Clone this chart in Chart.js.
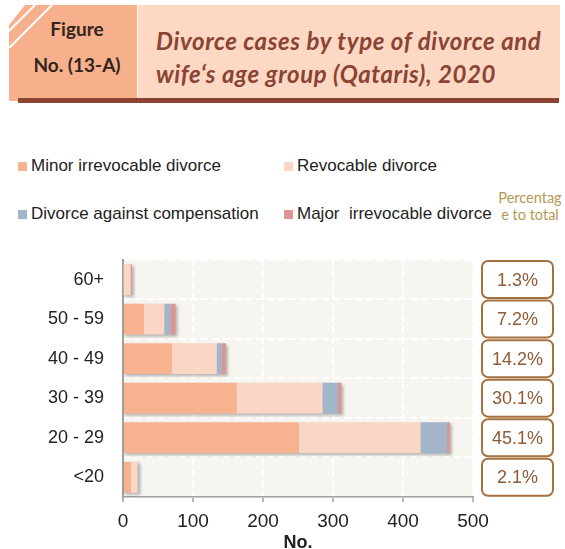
<!DOCTYPE html>
<html>
<head>
<meta charset="utf-8">
<script src="https://cdn.jsdelivr.net/npm/chart.js@4/dist/chart.umd.min.js"></script>
<style>
  html, body { margin: 0; padding: 0; background: #ffffff; }
  body { width: 565px; height: 549px; position: relative; overflow: hidden; }
  .abs { position: absolute; white-space: pre; }
  .fig { font-family: Lato, "Open Sans", sans-serif; font-weight: 700; color: #33241c; font-size: 19px; width: 128px; text-align: center; left: 13px; }
  .title { font-family: Lato, "Open Sans", sans-serif; font-weight: 700; font-style: italic; color: #8b4332; font-size: 24px; letter-spacing: 0.6px; left: 156px; }
  .leg { font-family: "Liberation Sans", Arial, sans-serif; font-size: 17px; color: #222; display: flex; align-items: center; }
  .leg i { display: inline-block; width: 9px; height: 9px; margin-right: 4px; }
  .pct { font-family: Lato, "Open Sans", sans-serif; font-size: 14.5px; color: #b39a52; left: 496px; width: 68px; text-align: center; line-height: 17px; }
  #c { position: absolute; left: 0; top: 230px; }
</style>
</head>
<body>
<svg class="abs" style="left:0;top:0" width="565" height="110">
  <polygon points="25,5 137,5 137,101 9,101 9,25" fill="#f7b08c"/>
  <line x1="35" y1="5" x2="9" y2="31" stroke="#fff" stroke-width="2"/>
  <line x1="52" y1="5" x2="9" y2="48" stroke="#fff" stroke-width="2"/>
  <rect x="138" y="5" width="422" height="93" fill="#fcd8c5"/>
  <rect x="18" y="98" width="541" height="5" fill="#8b4332"/>
</svg>
<div class="abs fig" style="top:17px;">Figure</div>
<div class="abs fig" style="top:53px;">No. (13-A)</div>
<div class="abs title" style="top:26px;">Divorce cases by type of divorce and</div>
<div class="abs title" style="top:59px;">wife‘s age group (Qataris), 2020</div>
<div id="legend"></div>
<div class="abs pct" style="top:189px;">Percentag
e to total</div>
<canvas id="c" width="565" height="319"></canvas>
<script>
const categories = ['60+', '50 - 59', '40 - 49', '30 - 39', '20 - 29', '<20'];
const minorIrrevocable = [1, 30, 70, 162, 251, 11];
const revocable = [10, 29, 64, 123, 174, 10];
const againstCompensation = [0, 9, 7, 22, 38, 1];
const majorIrrevocable = [2, 7, 6, 5, 4, 0];
const percentToTotal = ['1.3%', '7.2%', '14.2%', '30.1%', '45.1%', '2.1%'];
const seriesNames = ['Minor irrevocable divorce', 'Revocable divorce', 'Divorce against compensation', 'Major  irrevocable divorce'];
const seriesColors = ['#f7b38f', '#fbd6c4', '#a2b5ca', '#da9594'];
const xTickValues = [0, 100, 200, 300, 400, 500];

const seriesData = [minorIrrevocable, revocable, againstCompensation, majorIrrevocable];

// HTML legend (2 x 2 grid)
const legendPos = [[18, 156], [284, 156], [18, 204], [284, 204]];
const legendEl = document.getElementById('legend');
seriesNames.forEach((name, k) => {
  const d = document.createElement('div');
  d.className = 'abs leg';
  d.style.left = legendPos[k][0] + 'px';
  d.style.top = legendPos[k][1] + 'px';
  d.style.height = '20px';
  d.innerHTML = '<i style="background:' + seriesColors[k] + '"></i><span></span>';
  d.querySelector('span').textContent = name;
  legendEl.appendChild(d);
});

const plotBg = {
  id: 'plotBg',
  beforeDraw(chart) {
    const a = chart.chartArea, ctx = chart.ctx;
    ctx.save();
    ctx.fillStyle = '#f6f5f0';
    ctx.fillRect(a.left, a.top, a.right - a.left, a.bottom - a.top);
    ctx.restore();
  }
};

const barShadow = {
  id: 'barShadow',
  beforeDatasetsDraw(chart) {
    const ctx = chart.ctx, xs = chart.scales.x;
    const meta = chart.getDatasetMeta(0);
    ctx.save();
    ctx.filter = 'blur(1.5px)';
    ctx.fillStyle = 'rgba(60,60,60,0.35)';
    categories.forEach((c, i) => {
      const total = seriesData.reduce((s, arr) => s + arr[i], 0);
      const bar = meta.data[i];
      const x0 = xs.getPixelForValue(0), x1 = xs.getPixelForValue(total);
      ctx.fillRect(x0 + 2, bar.y - bar.height / 2 + 2, x1 - x0, bar.height);
    });
    ctx.restore();
  }
};

const pctBoxes = {
  id: 'pctBoxes',
  afterDraw(chart) {
    const ctx = chart.ctx, ys = chart.scales.y;
    ctx.save();
    percentToTotal.forEach((t, i) => {
      const cy = ys.getPixelForValue(i);
      const x = 482, w = 71, h = 37, y = cy - h / 2;
      ctx.beginPath();
      ctx.roundRect(x, y, w, h, 6);
      ctx.fillStyle = '#ffffff';
      ctx.fill();
      ctx.lineWidth = 2;
      ctx.strokeStyle = '#a5713f';
      ctx.stroke();
      ctx.fillStyle = '#8e5b34';
      ctx.font = '18px "Liberation Sans", Arial, sans-serif';
      ctx.textAlign = 'center';
      ctx.textBaseline = 'middle';
      ctx.fillText(t, x + w / 2, cy + 1);
    });
    ctx.restore();
  }
};

new Chart(document.getElementById('c'), {
  type: 'bar',
  data: {
    labels: categories,
    datasets: seriesNames.map((n, k) => ({
      label: n,
      data: seriesData[k],
      backgroundColor: seriesColors[k],
      borderWidth: 0,
      categoryPercentage: 1,
      barPercentage: 0.78
    }))
  },
  options: {
    indexAxis: 'y',
    responsive: false,
    animation: false,
    devicePixelRatio: 1,
    layout: { padding: { left: 0, right: 92, top: 9, bottom: 0 } },
    plugins: { legend: { display: false }, tooltip: { enabled: false } },
    scales: {
      x: {
        stacked: true,
        min: 0, max: 500,
        afterBuildTicks(s) { s.ticks = xTickValues.map(v => ({ value: v })); },
        afterFit(s) { s.height = 52; },
        grid: { color: '#ffffff', lineWidth: 2, tickColor: '#a0a0a0', tickLength: 5, tickWidth: 1.5, tickBorderDash: [] },
        border: { color: '#a0a0a0', width: 1.5, dash: [7, 4] },
        ticks: { color: '#222', font: { family: '"Liberation Sans", Arial, sans-serif', size: 19 }, padding: 8 },
        title: { display: true, text: 'No.', color: '#222', font: { family: '"Liberation Sans", Arial, sans-serif', size: 18, weight: 'bold', lineHeight: 1 }, padding: { top: 0, bottom: -3 } }
      },
      y: {
        stacked: true,
        afterFit(s) { s.width = 123; },
        grid: { color: '#ffffff', lineWidth: 2, drawTicks: false, offset: true },
        border: { color: '#a0a0a0', width: 2, dash: [7, 4] },
        ticks: { color: '#222', font: { family: '"Liberation Sans", Arial, sans-serif', size: 18 }, padding: 19 }
      }
    }
  },
  plugins: [plotBg, barShadow, pctBoxes]
});
</script>
</body>
</html>
